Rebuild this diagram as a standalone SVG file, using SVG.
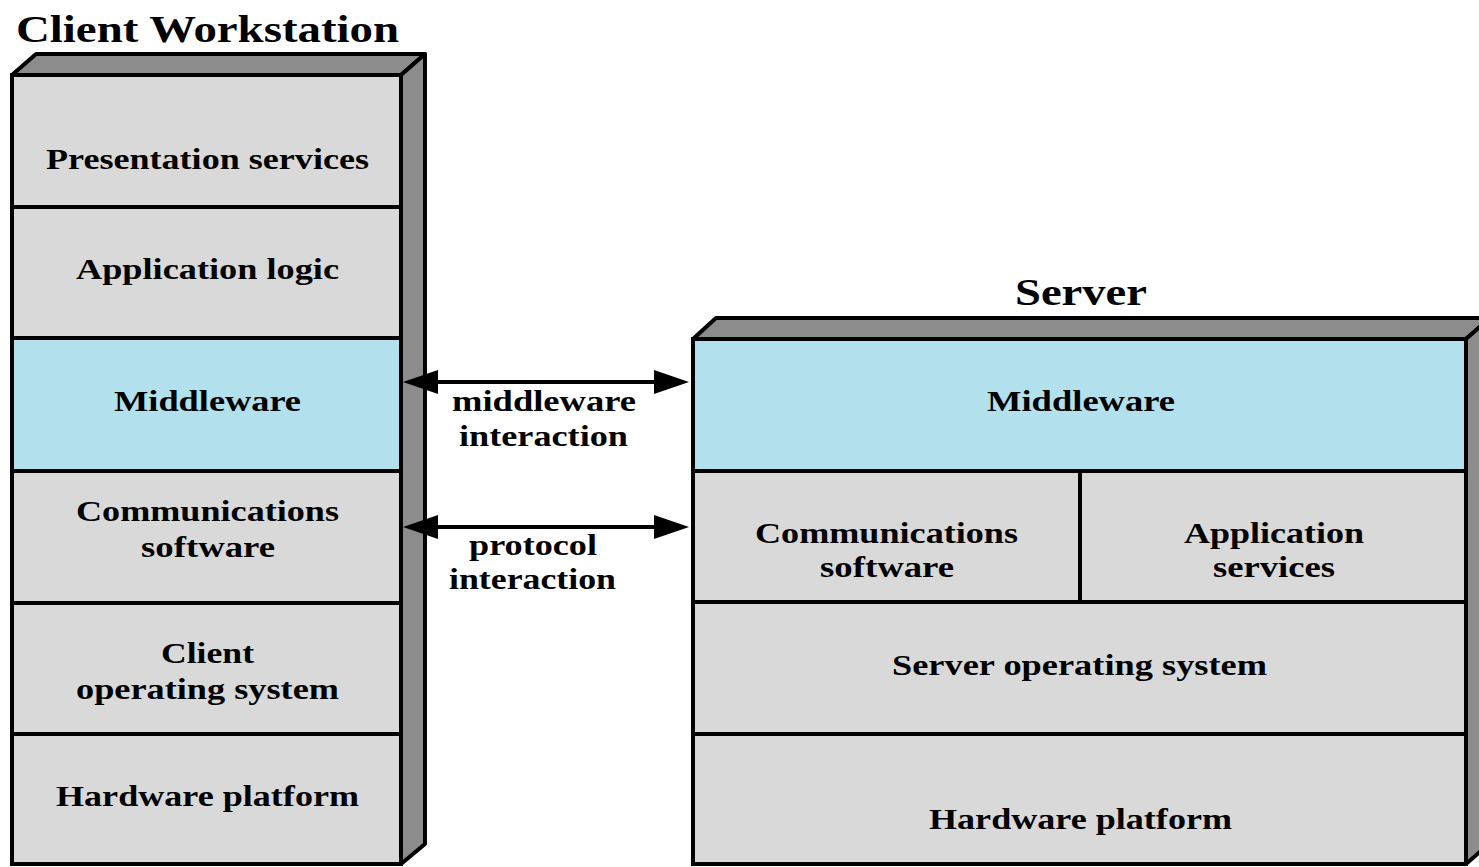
<svg xmlns="http://www.w3.org/2000/svg" width="1479" height="867" viewBox="0 0 1479 867">
  <style>
    .layer { fill: #d9d9d9; stroke: #000; stroke-width: 4; }
    .mw { fill: #b2e0ec; }
    .shade { fill: #8c8c8c; stroke: #000; stroke-width: 4; stroke-linejoin: round; }
    .lbl { font-family: "Liberation Serif", "Times New Roman", serif; font-weight: bold; font-size: 29px; fill: #000; }
    .title { font-size: 38px; }
    .link { stroke: #000; stroke-width: 4; fill: none; marker-start: url(#head); marker-end: url(#head); }
  </style>
  <defs>
    <marker id="head" markerUnits="userSpaceOnUse" markerWidth="36" markerHeight="26" refX="15" refY="12" orient="auto-start-reverse" viewBox="0 0 36 24">
      <path d="M0,0 L35,12 L0,24 z" fill="#000"/>
    </marker>
  </defs>
  <rect width="1479" height="867" fill="#fff"/>

  <!-- client stack -->
  <g id="client">
    <text class="lbl title" x="16" y="42" textLength="383" lengthAdjust="spacingAndGlyphs">Client Workstation</text>
    <polygon class="shade" points="12,75 36,54 425,54 401,75"/>
    <polygon class="shade" points="401,75 425,54 425,844 401,864"/>
  </g>
  <g id="client-presentation">
    <rect class="layer" x="12" y="75" width="389" height="132"/>
    <text class="lbl" x="46" y="169" textLength="323" lengthAdjust="spacingAndGlyphs">Presentation services</text>
  </g>
  <g id="client-application">
    <rect class="layer" x="12" y="207" width="389" height="131"/>
    <text class="lbl" x="76" y="279" textLength="263" lengthAdjust="spacingAndGlyphs">Application logic</text>
  </g>
  <g id="client-middleware">
    <rect class="layer mw" x="12" y="338" width="389" height="133"/>
    <text class="lbl" x="114" y="411" textLength="187" lengthAdjust="spacingAndGlyphs">Middleware</text>
  </g>
  <g id="client-comms">
    <rect class="layer" x="12" y="471" width="389" height="132"/>
    <text class="lbl" x="76" y="521" textLength="263" lengthAdjust="spacingAndGlyphs">Communications</text>
    <text class="lbl" x="141" y="557" textLength="134" lengthAdjust="spacingAndGlyphs">software</text>
  </g>
  <g id="client-os">
    <rect class="layer" x="12" y="603" width="389" height="131"/>
    <text class="lbl" x="161" y="663" textLength="93" lengthAdjust="spacingAndGlyphs">Client</text>
    <text class="lbl" x="76" y="699" textLength="263" lengthAdjust="spacingAndGlyphs">operating system</text>
  </g>
  <g id="client-hardware">
    <rect class="layer" x="12" y="734" width="389" height="130"/>
    <text class="lbl" x="56" y="806" textLength="303" lengthAdjust="spacingAndGlyphs">Hardware platform</text>
  </g>

  <!-- server stack -->
  <g id="server">
    <text class="lbl title" x="1015" y="305" textLength="132" lengthAdjust="spacingAndGlyphs">Server</text>
    <polygon class="shade" points="693,339 716,318 1490,318 1466,339"/>
    <polygon class="shade" points="1466,339 1490,318 1490,843 1466,864"/>
  </g>
  <g id="server-middleware">
    <rect class="layer mw" x="693" y="339" width="773" height="132"/>
    <text class="lbl" x="987" y="411" textLength="188" lengthAdjust="spacingAndGlyphs">Middleware</text>
  </g>
  <g id="server-comms">
    <rect class="layer" x="693" y="471" width="387" height="131"/>
    <text class="lbl" x="755" y="543" textLength="263" lengthAdjust="spacingAndGlyphs">Communications</text>
    <text class="lbl" x="820" y="577" textLength="134" lengthAdjust="spacingAndGlyphs">software</text>
  </g>
  <g id="server-appservices">
    <rect class="layer" x="1080" y="471" width="386" height="131"/>
    <text class="lbl" x="1184" y="543" textLength="180" lengthAdjust="spacingAndGlyphs">Application</text>
    <text class="lbl" x="1213" y="577" textLength="122" lengthAdjust="spacingAndGlyphs">services</text>
  </g>
  <g id="server-os">
    <rect class="layer" x="693" y="602" width="773" height="132"/>
    <text class="lbl" x="892" y="675" textLength="375" lengthAdjust="spacingAndGlyphs">Server operating system</text>
  </g>
  <g id="server-hardware">
    <rect class="layer" x="693" y="734" width="773" height="130"/>
    <text class="lbl" x="929" y="829" textLength="303" lengthAdjust="spacingAndGlyphs">Hardware platform</text>
  </g>

  <!-- interactions between the stacks -->
  <g id="connectors">
    <line class="link" x1="423" y1="382" x2="669" y2="382"/>
    <text class="lbl" x="452" y="411" textLength="184" lengthAdjust="spacingAndGlyphs">middleware</text>
    <text class="lbl" x="459" y="446" textLength="169" lengthAdjust="spacingAndGlyphs">interaction</text>
    <line class="link" x1="423" y1="527" x2="669" y2="527"/>
    <text class="lbl" x="469" y="555" textLength="128" lengthAdjust="spacingAndGlyphs">protocol</text>
    <text class="lbl" x="449" y="589" textLength="167" lengthAdjust="spacingAndGlyphs">interaction</text>
  </g>
</svg>
